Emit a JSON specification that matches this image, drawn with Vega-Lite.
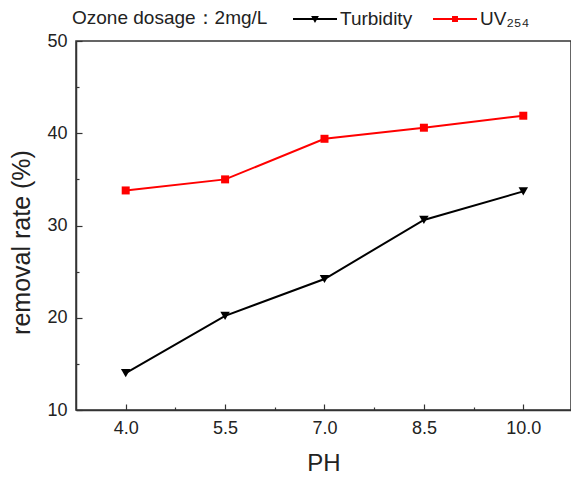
{
  "$schema": "https://vega.github.io/schema/vega-lite/v6.json",
  "width": 495,
  "height": 369,
  "autosize": {"type": "none"},
  "padding": {"left": 76, "top": 41, "right": 0, "bottom": 67},
  "background": "white",
  "config": {
    "font": "Liberation Sans",
    "view": {"stroke": "#333333", "strokeWidth": 1.5},
    "axis": {
      "grid": false,
      "domainColor": "#333333",
      "domainWidth": 1.5,
      "tickColor": "#333333",
      "tickWidth": 1.2,
      "labelColor": "#222222",
      "titleColor": "#222222",
      "labelFontSize": 18,
      "titleFontSize": 24,
      "titleFontWeight": "normal"
    }
  },
  "data": {
    "values": [
      {"ph": 4.0, "rate": 14.0, "series": "Turbidity"},
      {"ph": 5.5, "rate": 20.2, "series": "Turbidity"},
      {"ph": 7.0, "rate": 24.2, "series": "Turbidity"},
      {"ph": 8.5, "rate": 30.6, "series": "Turbidity"},
      {"ph": 10.0, "rate": 33.7, "series": "Turbidity"},
      {"ph": 4.0, "rate": 33.8, "series": "UV₂₅₄"},
      {"ph": 5.5, "rate": 35.0, "series": "UV₂₅₄"},
      {"ph": 7.0, "rate": 39.4, "series": "UV₂₅₄"},
      {"ph": 8.5, "rate": 40.6, "series": "UV₂₅₄"},
      {"ph": 10.0, "rate": 41.9, "series": "UV₂₅₄"}
    ]
  },
  "encoding": {
    "x": {
      "field": "ph",
      "type": "quantitative",
      "title": "PH",
      "scale": {"domain": [3.25, 10.72], "nice": false, "zero": false},
      "axis": {
        "values": [4.0, 4.75, 5.5, 6.25, 7.0, 7.75, 8.5, 9.25, 10.0],
        "labelExpr": "abs((datum.value-4)/1.5 - round((datum.value-4)/1.5)) < 0.01 ? format(datum.value, '.1f') : ''",
        "tickSize": {"condition": {"test": "abs((datum.value-4)/1.5 - round((datum.value-4)/1.5)) < 0.01", "value": -6}, "value": -3},
        "labelPadding": 15,
        "titlePadding": 14
      }
    },
    "y": {
      "field": "rate",
      "type": "quantitative",
      "title": "removal rate (%)",
      "scale": {"domain": [10, 50], "nice": false, "zero": false},
      "axis": {
        "values": [10, 15, 20, 25, 30, 35, 40, 45, 50],
        "labelExpr": "datum.value % 10 == 0 ? datum.label : ''",
        "tickSize": {"condition": {"test": "datum.value % 10 == 0", "value": -6}, "value": -3},
        "labelPadding": 15,
        "titlePadding": 12,
        "titleFontSize": 25,
        "titleY": 201
      }
    }
  },
  "layer": [
    {
      "mark": {"type": "line", "strokeWidth": 2},
      "encoding": {
        "color": {
          "field": "series",
          "type": "nominal",
          "scale": {"domain": ["Turbidity", "UV₂₅₄"], "range": ["#000000", "#ff0000"]},
          "legend": {
            "orient": "none",
            "legendX": -4,
            "legendY": -45,
            "direction": "horizontal",
            "title": "Ozone dosage：2mg/L",
            "titleOrient": "left",
            "titleAnchor": "middle",
            "titleLimit": 400,
            "labelLimit": 200,
            "titleFontSize": 19,
            "titleFontWeight": "normal",
            "titleColor": "#222222",
            "titlePadding": 24,
            "titleBaseline": "middle",
            "labelFontSize": 19,
            "labelColor": "#222222",
            "labelOffset": 2,
            "columnPadding": 16,
            "padding": 0,
            "symbolSize": 1936,
            "symbolStrokeWidth": 2,
            "encode": {
              "title": {
                "update": {
                  "dy": {"value": 5}
                }
              },
              "symbols": {
                "update": {
                  "shape": {"signal": "datum.value === 'Turbidity' ? 'M-1,0H1M-0.1,-0.09H0.1L0,0.09Z' : 'M-1,0H1M-0.09,-0.09H0.09V0.09H-0.09Z'"},
                  "fill": {"signal": "datum.value === 'Turbidity' ? '#000000' : '#ff0000'"},
                  "stroke": {"signal": "datum.value === 'Turbidity' ? '#000000' : '#ff0000'"},
                  "fillOpacity": {"value": 1},
                  "strokeWidth": {"value": 2}
                }
              }
            }
          }
        }
      }
    },
    {
      "transform": [{"filter": "datum.series === 'Turbidity'"}],
      "mark": {"type": "point", "filled": true, "opacity": 1, "shape": "triangle-down", "size": 90, "color": "#000000"}
    },
    {
      "transform": [{"filter": "datum.series !== 'Turbidity'"}],
      "mark": {"type": "point", "filled": true, "opacity": 1, "shape": "square", "size": 64, "color": "#ff0000"}
    }
  ]
}
